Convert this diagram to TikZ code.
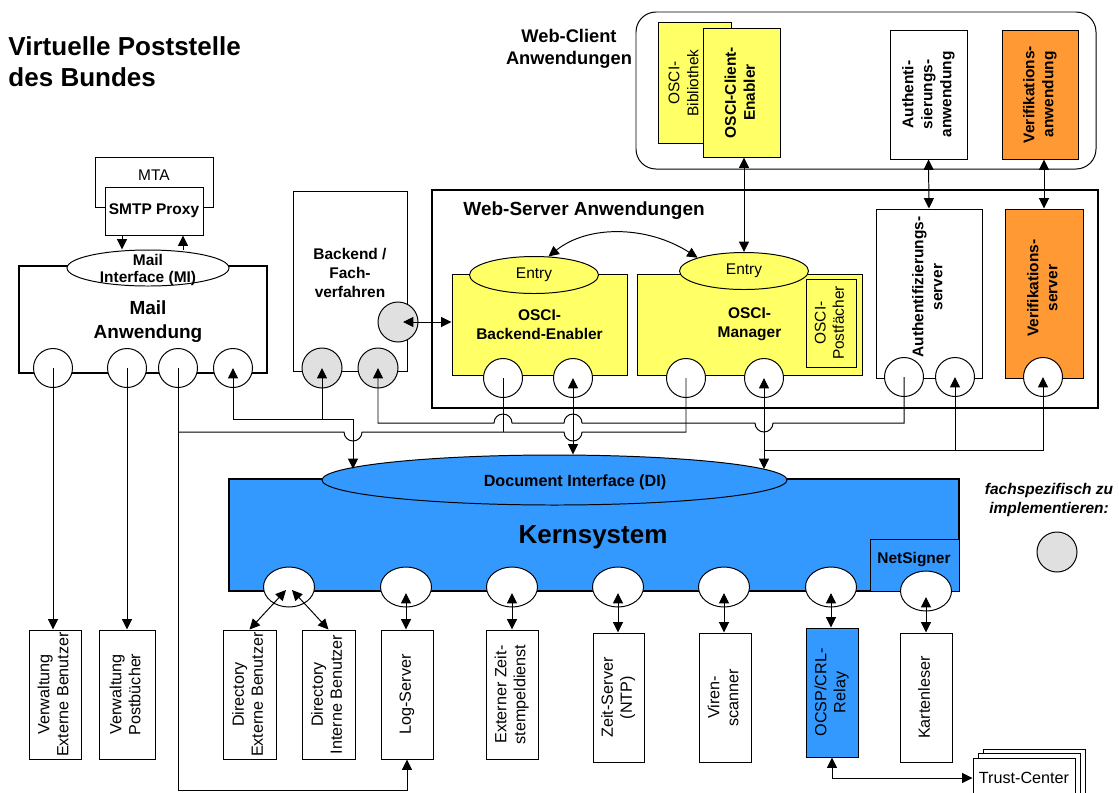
\documentclass[tikz,border=0pt]{standalone}
\usepackage{fontspec}
\setmainfont{Liberation Sans}
\usepackage{graphicx}
\usetikzlibrary{arrows.meta,shapes.geometric,calc}

\definecolor{vpsYellow}{HTML}{FFFF66}
\definecolor{vpsOrange}{HTML}{FF9933}
\definecolor{vpsBlue}{HTML}{3399FF}
\definecolor{vpsGrey}{HTML}{E0E0E0}

\newcommand\rotlabel[1]{\rotatebox{90}{\begin{tabular}{@{}c@{}}#1\end{tabular}}}

\tikzset{
	sz/.style 2 args={minimum width=#1*0.025cm, minimum height=#2*0.025cm},
	box/.style={draw, fill=white, inner sep=0pt, align=center, font=\fontsize{11}{13.5}\selectfont\bfseries},
	rbox/.style={box, font=\fontsize{11.5}{13.5}\selectfont},
	heavy/.style={line width=1.8pt},
	txt/.style={inner sep=0pt, align=center, font=\fontsize{11}{13.5}\selectfont\bfseries},
	entry/.style={draw, ellipse, fill=vpsYellow, inner sep=0pt, sz={129}{37}, font=\fontsize{11}{13}\selectfont},
	port/.style={draw, circle, fill=white, inner sep=0pt, minimum size=0.975cm},
	gport/.style={port, fill=vpsGrey, minimum size=1cm},
	kport/.style={draw, ellipse, fill=white, inner sep=0pt, sz={51}{40}},
}

\begin{document}
\begin{tikzpicture}[x=0.025cm, y=-0.025cm, line width=0.7pt, >={Triangle[length=0.26cm, width=0.25cm]}]
	\useasboundingbox (0,0) rectangle (1119,792);
	\clip (0,0) rectangle (1119,792);
	% Titel:
	\node[txt, anchor=west, align=left, font=\fontsize{18.5}{22}\selectfont\bfseries] (title) at (8,62) {Virtuelle Poststelle\\des Bundes};

	% Web-Client Anwendungen:
	\node[draw, rounded corners=0.5cm, sz={460}{157}] (wcbox) at (866,90.5) {};
	\node[txt, font=\fontsize{13}{15.5}\selectfont\bfseries] (wclabel) at (569,49) {Web-Client\\Anwendungen};
	\node[box, fill=vpsYellow, sz={73}{121}] (bib) at (694.5,82.5) {};
	\node[txt, font=\fontsize{11}{13.5}\selectfont] (bibT) at (685,83) {\rotlabel{OSCI-\\Bibliothek}};
	\node[box, fill=vpsYellow, sz={77}{129}] (oce) at (741.5,92.5) {\rotlabel{OSCI-Client-\\Enabler}};
	\node[box, sz={77}{129}] (authapp) at (928.5,94.5) {\rotlabel{Authenti-\\sierungs-\\anwendung}};
	\node[box, fill=vpsOrange, sz={76}{129}] (verapp) at (1040,94.5) {\rotlabel{Verifikations-\\anwendung}};

	% Web-Server Anwendungen:
	\node[box, heavy, sz={666}{218}] (wsbox) at (765,299) {};
	\node[txt, anchor=west, font=\fontsize{13.5}{16}\selectfont\bfseries] (wslabel) at (463,211) {Web-Server Anwendungen};
	\node[box, fill=vpsYellow, sz={175}{101}] (obe) at (539.5,324.5) {OSCI-\\Backend-Enabler};
	\node[entry] (entryA) at (534,275) {Entry};
	\node[box, fill=vpsYellow, sz={225}{101}] (omgr) at (749.5,324.5) {OSCI-\\Manager};
	\node[entry] (entryB) at (744,271) {Entry};
	\node[rbox, font=\fontsize{11}{13}\selectfont, fill=vpsYellow, sz={50}{88}] (post) at (831,323) {\rotlabel{OSCI-\\Postfächer}};
	\node[box, sz={106}{169}] (authsrv) at (929,293.5) {};
	\node[txt] (authT) at (929,287) {\rotlabel{Authentifizierungs-\\server}};
	\node[box, fill=vpsOrange, sz={78}{169}] (versrv) at (1044,293.5) {};
	\node[txt] (verT) at (1044,288) {\rotlabel{Verifikations-\\server}};
	\node[port] (obeP1) at (503,378) {};
	\node[port] (obeP2) at (573,378) {};
	\node[port] (omgrP1) at (686,378) {};
	\node[port] (omgrP2) at (764,378) {};
	\node[port] (authP1) at (904,377) {};
	\node[port] (authP2) at (955,377) {};
	\node[port] (verP) at (1043,377) {};

	% Mail Anwendung und Backend:
	\node[box, sz={118}{50}] (mta) at (154,182) {};
	\node[txt, font=\fontsize{11}{13}\selectfont] (mtaT) at (154,175) {MTA};
	\node[box, sz={98}{48}] (smtp) at (154,211) {SMTP Proxy};
	\node[box, heavy, sz={248}{107}] (mail) at (143,319.5) {};
	\node[txt, font=\fontsize{13.5}{17}\selectfont\bfseries] (mailT) at (148,322) {Mail\\Anwendung};
	\node[draw, ellipse, fill=white, inner sep=0pt, sz={162}{36}] (mi) at (148,268) {};
	\node[txt, font=\fontsize{11}{11.5}\selectfont\bfseries] (miT) at (148,270) {Mail\\Interface (MI)};
	\node[port] (mP1) at (53,368) {};
	\node[port] (mP2) at (127,368) {};
	\node[port] (mP3) at (178,368) {};
	\node[port] (mP4) at (233,368) {};
	\node[box, sz={114}{180}] (backend) at (350,281) {};
	\node[txt] (backendT) at (350,273) {Backend /\\Fach-\\verfahren};
	\node[gport] (bP1) at (322,368) {};
	\node[gport] (bP2) at (378,368) {};
	\node[gport] (bSide) at (398,322) {};

	% Kernsystem:
	\node[box, heavy, fill=vpsBlue, sz={730}{112}] (kern) at (594,535) {};
	\node[draw, ellipse, fill=vpsBlue, inner sep=0pt, sz={465}{50}] (di) at (554.5,480) {};
	\node[txt, font=\fontsize{11.5}{14}\selectfont\bfseries] (diT) at (575,482) {Document Interface (DI)};
	\node[txt, font=\fontsize{18.5}{22}\selectfont\bfseries] (kernT) at (593,537) {Kernsystem};
	\node[box, fill=vpsBlue, sz={89}{52}] (netsig) at (914.5,565) {};
	\node[txt] (netsigT) at (914,560) {NetSigner};
	\node[kport] (kP1) at (289,587) {};
	\node[kport] (kP2) at (406,587) {};
	\node[kport] (kP3) at (512,587) {};
	\node[kport] (kP4) at (618,587) {};
	\node[kport] (kP5) at (724,587) {};
	\node[kport] (kP6) at (831,587) {};
	\node[kport] (kP7) at (926,591) {};

	% Dienste unten:
	\node[rbox, sz={52}{129}] (verwExt) at (55,694.5) {\rotlabel{Verwaltung\\Externe Benutzer}};
	\node[rbox, sz={56}{129}] (verwPost) at (127,694.5) {\rotlabel{Verwaltung\\Postbücher}};
	\node[rbox, sz={53}{129}] (dirExt) at (249.5,694.5) {\rotlabel{Directory\\Externe Benutzer}};
	\node[rbox, sz={53}{129}] (dirInt) at (328.5,694.5) {\rotlabel{Directory\\Interne Benutzer}};
	\node[rbox, sz={52}{129}] (logSrv) at (407,694.5) {\rotlabel{Log-Server}};
	\node[rbox, sz={52}{129}] (extZeit) at (512,694.5) {\rotlabel{Externer Zeit-\\stempeldienst}};
	\node[rbox, sz={51}{129}] (zeitSrv) at (618.5,697.5) {\rotlabel{Zeit-Server\\(NTP)}};
	\node[rbox, sz={52}{129}] (viren) at (725,697.5) {\rotlabel{Viren-\\scanner}};
	\node[rbox, fill=vpsBlue, sz={52}{129}] (ocsp) at (832,692.5) {\rotlabel{OCSP/CRL-\\Relay}};
	\node[rbox, sz={52}{129}] (karten) at (926,697.5) {\rotlabel{Kartenleser}};
	\node[rbox, sz={102}{60}] (tc3) at (1034,779) {};
	\node[rbox, sz={102}{50}] (tc2) at (1029,778) {};
	\node[rbox, sz={102}{40}] (tc1) at (1024,778) {Trust-Center};

	% Legende:
	\node[txt, font=\fontsize{11}{13.5}\selectfont\bfseries\itshape] (legT) at (1049,500) {fachspezifisch zu\\implementieren:};
	\node[gport] (legP) at (1057,552) {};

	% Verbindungen:
	\draw[->] (smtp.south -| 122,0) -- (mi.north -| 122,0);
	\draw[->] (mi.north -| 183,0) -- (smtp.south -| 183,0);
	\draw[<->] (entryB.north |- oce.south) -- (entryB.north);
	\draw[<->] (authapp.south) -- (authsrv.north);
	\draw[<->] (versrv.north |- verapp.south) -- (versrv.north);
	\draw[<->] (entryA.52) .. controls +(40,-32) and +(-50,-32) .. (entryB.164);
	\draw[<->] ($(bSide.center)+(5,0)$) -- (obe.west |- bSide.center);
	\draw[->] (mP1.center) -- (mP1 |- verwExt.north);
	\draw[->] (mP2.center) -- (mP2 |- verwPost.north);
	\draw[->] (mP3.center) -- (mP3 |- 0,790) -| (logSrv.south);
	\draw (mP3 |- 0,432) -- (344,432) arc[start angle=180, end angle=360, radius=0.225cm] -- (564,432) arc[start angle=180, end angle=360, radius=0.225cm] -| (omgrP1.center);
	\draw (obeP1.center) -- (obeP1 |- 0,432);
	\draw[<->] (mP4.center) |- (353,419) -- (353,0 |- di.177);
	\draw[->] (bP1 |- 0,419) -- (bP1.center);
	\draw[<-] (bP2.center) |- (494,423) arc[start angle=180, end angle=0, radius=0.225cm] -- (564,423) arc[start angle=180, end angle=0, radius=0.225cm] -- (755,423) arc[start angle=180, end angle=360, radius=0.225cm] -| (authP1.center);
	\draw[<->] (obeP2.center) -- (obeP2 |- di.north);
	\draw[<->] (omgrP2.center) -- (omgrP2 |- di.3);
	\draw[->] (omgrP2 |- 0,450) -| (verP.center);
	\draw[->] (authP2 |- 0,450) -- (authP2.center);
	\draw[<->] ($(kP1.center)+(-3,3)$) -- (dirExt.north);
	\draw[<->] ($(kP1.center)+(3,3)$) -- (dirInt.north);
	\draw[<->] ($(kP2.center)+(0,6)$) -- (kP2 |- logSrv.north);
	\draw[<->] ($(kP3.center)+(0,6)$) -- (kP3 |- extZeit.north);
	\draw[<->] ($(kP4.center)+(0,6)$) -- (kP4 |- zeitSrv.north);
	\draw[<->] ($(kP5.center)+(0,6)$) -- (kP5 |- viren.north);
	\draw[<->] ($(kP6.center)+(0,6)$) -- (kP6 |- ocsp.north);
	\draw[<->] ($(kP7.center)+(0,6)$) -- (kP7 |- karten.north);
	\draw[<->] (ocsp.south) |- (tc1.west);
\end{tikzpicture}
\end{document}
